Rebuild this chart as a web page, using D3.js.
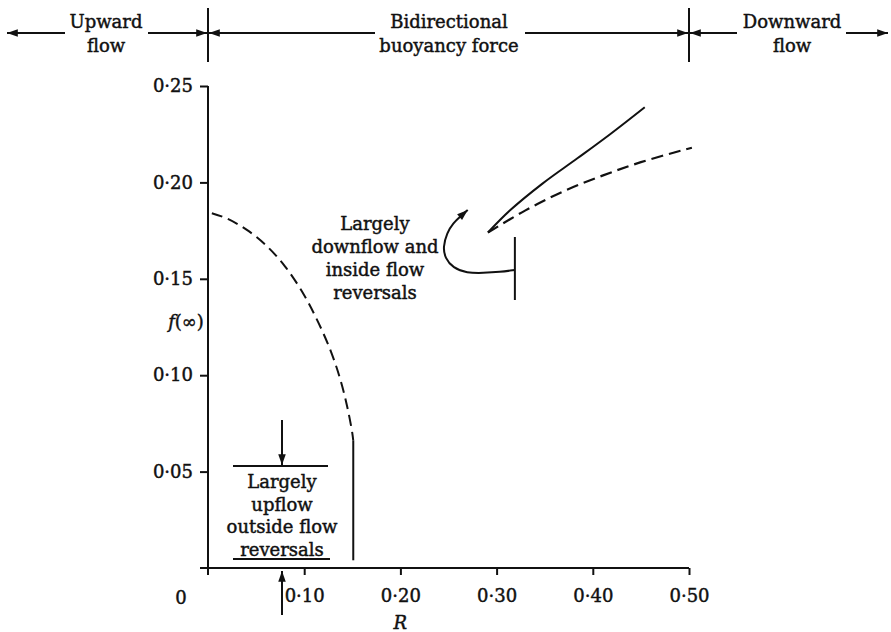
<!DOCTYPE html>
<html>
<head>
<meta charset="utf-8">
<script src="https://cdn.jsdelivr.net/npm/d3@7"></script>
<style>
  body { margin: 0; background: #fff; }
  text { font-family: "DejaVu Serif", "Liberation Serif", serif; fill: #111;
         stroke: #111; stroke-width: 0.45px; }
</style>
</head>
<body>
<svg id="chart" width="891" height="632"></svg>
<script>
// ---- data (R, f(∞)) ----
const lowerBoundDashed = [
  [0.004, 0.184], [0.020, 0.1812], [0.040, 0.1755], [0.060, 0.1675],
  [0.080, 0.1565], [0.100, 0.1415], [0.115, 0.127], [0.128, 0.112],
  [0.138, 0.097], [0.145, 0.083], [0.150, 0.070], [0.151, 0.066]
];
const lowerBoundSolid = [[0.151, 0.066], [0.151, 0.004]];
const upperBranchSolid = [
  [0.291, 0.174], [0.314, 0.1855], [0.348, 0.1995], [0.384, 0.2125],
  [0.418, 0.2250], [0.454, 0.239]
];
const upperBranchDashed = [
  [0.291, 0.174], [0.330, 0.1855], [0.370, 0.1955], [0.410, 0.2035],
  [0.450, 0.2105], [0.503, 0.218]
];

const xTicks = [0.10, 0.20, 0.30, 0.40, 0.50];
const xTickLabels = ["0·10", "0·20", "0·30", "0·40", "0·50"];
const yTicks = [0.05, 0.10, 0.15, 0.20, 0.25];
const yTickLabels = ["0·05", "0·10", "0·15", "0·20", "0·25"];

const regionLabels = [
  { lines: ["Upward", "flow"] },
  { lines: ["Bidirectional", "buoyancy force"] },
  { lines: ["Downward", "flow"] }
];
const upperNote = ["Largely", "downflow and", "inside flow", "reversals"];
const lowerNote = ["Largely", "upflow", "outside flow", "reversals"];

// pointer from the bracket towards the upper branch, in (R, f)
const upperPointer = [
  [0.319, 0.1546], [0.3035, 0.1535], [0.286, 0.1530], [0.269, 0.1530],
  [0.2547, 0.1556], [0.2464, 0.1608], [0.2443, 0.1665], [0.2484, 0.1738],
  [0.2547, 0.1789], [0.264, 0.1831], [0.270, 0.1857]
];

// ---- layout ----
const svg = d3.select("#chart");
const x = d3.scaleLinear().domain([0, 0.5]).range([208, 689]);
const y = d3.scaleLinear().domain([0, 0.25]).range([568, 86]);
const ink = "#111";

const defs = svg.append("defs");
defs.append("marker")
  .attr("id", "head")
  .attr("viewBox", "0 -5 12 10")
  .attr("refX", 12).attr("refY", 0)
  .attr("markerUnits", "userSpaceOnUse")
  .attr("markerWidth", 12).attr("markerHeight", 9)
  .attr("orient", "auto-start-reverse")
  .append("path").attr("d", "M0,-4.2L12,0L0,4.2Z").attr("fill", ink);

// ---- axes ----
const yAxis = d3.axisLeft(y).tickValues(yTicks)
  .tickFormat((d, i) => yTickLabels[i]).tickSize(8).tickPadding(7);
const gy = svg.append("g").attr("transform", `translate(${x(0)},0)`).call(yAxis);

const xAxis = d3.axisBottom(x).tickValues(xTicks)
  .tickFormat((d, i) => xTickLabels[i]).tickSize(7).tickPadding(14);
const gx = svg.append("g").attr("transform", `translate(0,${y(0)})`).call(xAxis);

[gx, gy].forEach(g => {
  g.select(".domain").remove();
  g.selectAll("line").attr("stroke", ink).attr("stroke-width", 2);
  g.selectAll("text").attr("font-size", 18).attr("fill", ink);
});

// axis lines, with the short overshoot at the origin
svg.append("line").attr("x1", x(0)).attr("x2", x(0))
  .attr("y1", y(0.25)).attr("y2", y(0) + 7)
  .attr("stroke", ink).attr("stroke-width", 2);
svg.append("line").attr("x1", x(0) - 8).attr("x2", x(0.5))
  .attr("y1", y(0)).attr("y2", y(0))
  .attr("stroke", ink).attr("stroke-width", 2);

svg.append("text").attr("x", x(0) - 27).attr("y", y(0) + 36)
  .attr("text-anchor", "middle").attr("font-size", 18).text("0");

svg.append("text").attr("x", x(0.2)).attr("y", 629)
  .attr("text-anchor", "middle").attr("font-size", 18)
  .attr("font-style", "italic").text("R");

const fl = svg.append("text").attr("x", 186).attr("y", 328)
  .attr("text-anchor", "middle").attr("font-size", 18);
fl.append("tspan").attr("font-style", "italic").text("f");
fl.append("tspan").text("(∞)");

// ---- curves ----
const line = d3.line().x(d => x(d[0])).y(d => y(d[1])).curve(d3.curveCatmullRom.alpha(0.5));
const straight = d3.line().x(d => x(d[0])).y(d => y(d[1]));

svg.append("path").attr("d", line(lowerBoundDashed))
  .attr("fill", "none").attr("stroke", ink).attr("stroke-width", 2)
  .attr("stroke-dasharray", "11,6");
svg.append("path").attr("d", straight(lowerBoundSolid))
  .attr("fill", "none").attr("stroke", ink).attr("stroke-width", 2);
svg.append("path").attr("d", line(upperBranchSolid))
  .attr("fill", "none").attr("stroke", ink).attr("stroke-width", 2);
svg.append("path").attr("d", line(upperBranchDashed))
  .attr("fill", "none").attr("stroke", ink).attr("stroke-width", 2.2)
  .attr("stroke-dasharray", "12,6");

// ---- header: flow regimes ----
const hy = 33;
const arrows = [
  [65, 7], [148, x(0) - 1], [375, x(0) + 1],
  [525, x(0.5) - 1], [737, x(0.5) + 1], [846, 888]
];
arrows.forEach(([a, b]) => {
  svg.append("line").attr("x1", a).attr("x2", b).attr("y1", hy).attr("y2", hy)
    .attr("stroke", ink).attr("stroke-width", 2).attr("marker-end", "url(#head)");
});
[x(0), x(0.5)].forEach(px => {
  svg.append("line").attr("x1", px).attr("x2", px).attr("y1", 8).attr("y2", 62)
    .attr("stroke", ink).attr("stroke-width", 2);
});
const headerCenters = [106, 449, 792];
regionLabels.forEach((r, i) => {
  r.lines.forEach((t, j) => {
    svg.append("text").attr("x", headerCenters[i]).attr("y", 28 + j * 24)
      .attr("text-anchor", "middle").attr("font-size", 18).text(t);
  });
});

// ---- annotation: upper branch ----
upperNote.forEach((t, j) => {
  svg.append("text").attr("x", 375).attr("y", 230 + j * 23)
    .attr("text-anchor", "middle").attr("font-size", 18).text(t);
});
svg.append("line").attr("x1", x(0.319)).attr("x2", x(0.319))
  .attr("y1", 237).attr("y2", 300).attr("stroke", ink).attr("stroke-width", 2);
svg.append("path").attr("d", d3.line().x(d => x(d[0])).y(d => y(d[1]))
    .curve(d3.curveBasis)(upperPointer))
  .attr("fill", "none").attr("stroke", ink).attr("stroke-width", 2)
  .attr("marker-end", "url(#head)");

// ---- annotation: lower-left region ----
const nx = 282;
lowerNote.forEach((t, j) => {
  svg.append("text").attr("x", nx).attr("y", 488 + j * 22.5)
    .attr("text-anchor", "middle").attr("font-size", 18).text(t);
});
svg.append("line").attr("x1", 233).attr("x2", 328).attr("y1", 466).attr("y2", 466)
  .attr("stroke", ink).attr("stroke-width", 2);
svg.append("line").attr("x1", 233).attr("x2", 330).attr("y1", 559).attr("y2", 559)
  .attr("stroke", ink).attr("stroke-width", 2);
svg.append("line").attr("x1", nx).attr("x2", nx).attr("y1", 420).attr("y2", 465)
  .attr("stroke", ink).attr("stroke-width", 2).attr("marker-end", "url(#head)");
svg.append("line").attr("x1", nx).attr("x2", nx).attr("y1", 615).attr("y2", 571)
  .attr("stroke", ink).attr("stroke-width", 2).attr("marker-end", "url(#head)");
</script>
</body>
</html>
